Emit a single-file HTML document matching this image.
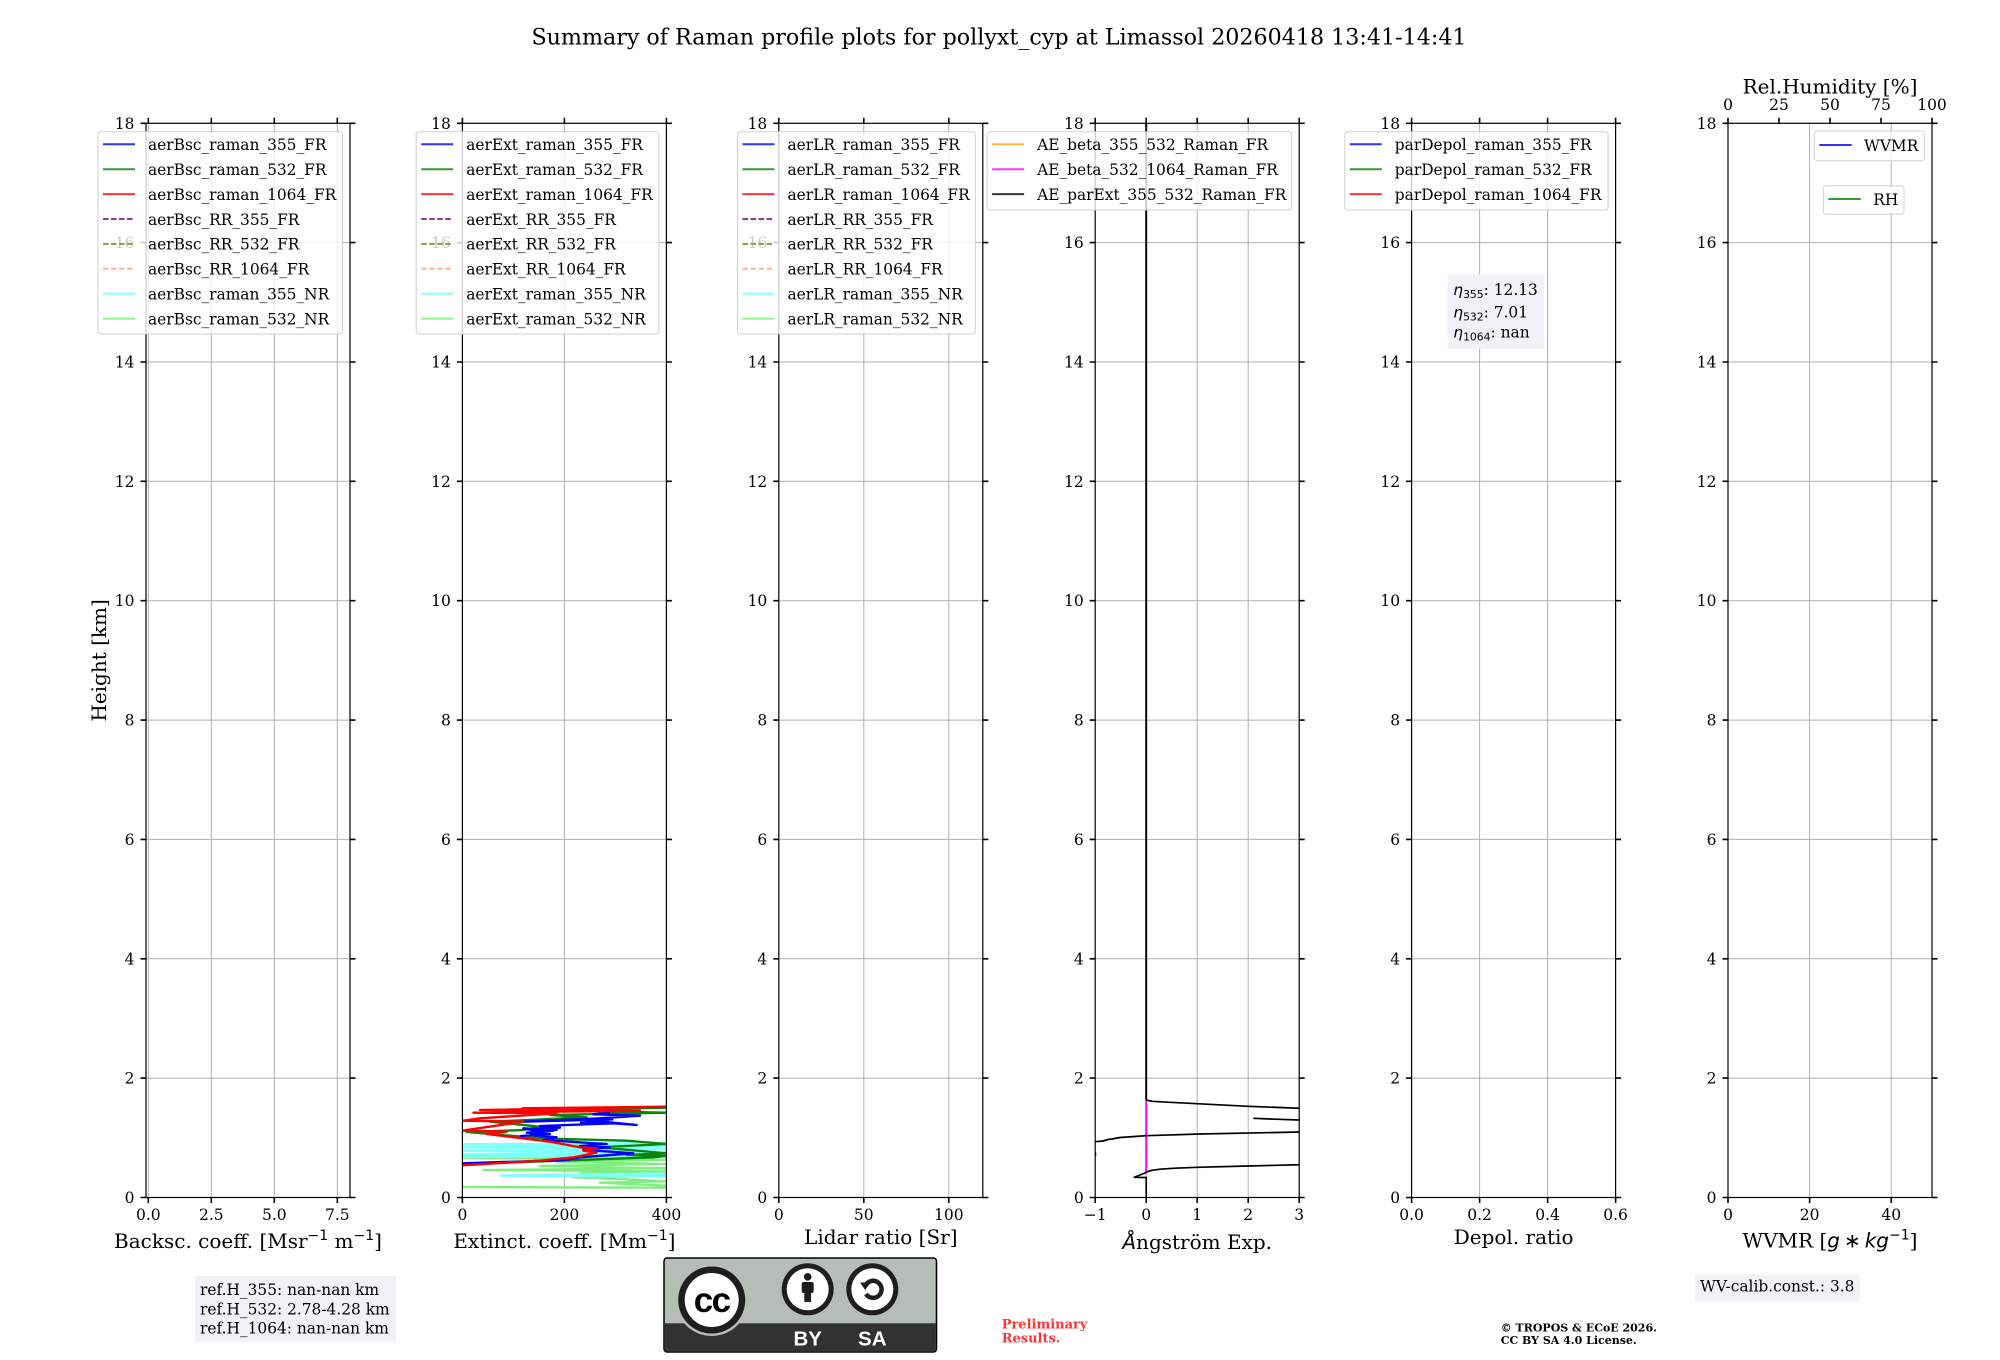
<!DOCTYPE html>
<html>
<head>
<meta charset="utf-8">
<style>
html,body{margin:0;padding:0;background:#fff;}
body{width:2000px;height:1360px;overflow:hidden;}
svg{display:block;}
text{font-family:"DejaVu Serif","Liberation Serif",serif;fill:#000;}
.sans{font-family:"DejaVu Sans","Liberation Sans",sans-serif;}
</style>
</head>
<body>
<svg width="2000" height="1360" viewBox="0 0 2000 1360" xmlns="http://www.w3.org/2000/svg">
<defs>
<clipPath id="c2"><rect x="462.4" y="123.3" width="204" height="1074.2"/></clipPath>
<clipPath id="c4"><rect x="1095.2" y="123.3" width="204" height="1074.2"/></clipPath>
</defs>
<rect width="2000" height="1360" fill="#fff"/>

<text x="999" y="44.3" font-size="22.2" text-anchor="middle">Summary of Raman profile plots for pollyxt_cyp at Limassol 20260418 13:41-14:41</text>

<text transform="translate(99,660.4) rotate(-90)" text-anchor="middle" dominant-baseline="central" font-size="20">Height [km]</text>

<!-- ================= PANEL 1 ================= -->
<g transform="translate(146,0)">
<path d="M0 1078.1H204M0 958.8H204M0 839.4H204M0 720.1H204M0 600.7H204M0 481.3H204M0 362H204M0 242.6H204M2.3 123.3V1197.5M65.3 123.3V1197.5M128.3 123.3V1197.5M191.3 123.3V1197.5" stroke="#b0b0b0" stroke-width="1" fill="none"/>
<rect x="0" y="123.3" width="204" height="1074.2" fill="none" stroke="#000" stroke-width="1.2"/>
<path d="M-5.5 1197.5H0M-5.5 1078.1H0M-5.5 958.8H0M-5.5 839.4H0M-5.5 720.1H0M-5.5 600.7H0M-5.5 481.3H0M-5.5 362H0M-5.5 242.6H0M-5.5 123.3H0M204 1197.5H209.5M204 1078.1H209.5M204 958.8H209.5M204 839.4H209.5M204 720.1H209.5M204 600.7H209.5M204 481.3H209.5M204 362H209.5M204 242.6H209.5M204 123.3H209.5M2.3 1197.5V1203M65.3 1197.5V1203M128.3 1197.5V1203M191.3 1197.5V1203M2.3 123.3V117.8M65.3 123.3V117.8M128.3 123.3V117.8M191.3 123.3V117.8" stroke="#000" stroke-width="1.6" fill="none"/>
<g font-size="15.5" text-anchor="end">
<text x="-11.5" y="1203">0</text><text x="-11.5" y="1083.6">2</text><text x="-11.5" y="964.3">4</text><text x="-11.5" y="844.9">6</text><text x="-11.5" y="725.6">8</text><text x="-11.5" y="606.2">10</text><text x="-11.5" y="486.8">12</text><text x="-11.5" y="367.5">14</text><text x="-11.5" y="248.1">16</text><text x="-11.5" y="128.8">18</text>
</g>
<g font-size="15.5" text-anchor="middle">
<text x="2.3" y="1220">0.0</text><text x="65.3" y="1220">2.5</text><text x="128.3" y="1220">5.0</text><text x="191.3" y="1220">7.5</text>
</g>
<text x="102" y="1247.8" font-size="20" text-anchor="middle">Backsc. coeff. [Msr<tspan class="sans" font-size="14" dy="-8">−1</tspan><tspan dy="8"> m</tspan><tspan class="sans" font-size="14" dy="-8">−1</tspan><tspan dy="8">]</tspan></text>
<rect x="-48" y="131.7" width="244.5" height="202.3" rx="3" fill="#fff" fill-opacity="0.8" stroke="#d0d0d0" stroke-width="1"/>
<g stroke-width="2" fill="none">
<path d="M-43 144.3H-11" stroke="#3333ff"/>
<path d="M-43 169.2H-11" stroke="#339933"/>
<path d="M-43 194.1H-11" stroke="#ff3333"/>
<path d="M-43 219H-11" stroke="#993399" stroke-dasharray="5.5,2.5"/>
<path d="M-43 243.9H-11" stroke="#999933" stroke-dasharray="5.5,2.5"/>
<path d="M-43 268.8H-11" stroke="#ffb395" stroke-dasharray="5.5,2.5"/>
<path d="M-43 293.7H-11" stroke="#88ffff"/>
<path d="M-43 318.6H-11" stroke="#8cf58c"/>
</g>
<g font-size="15.4">
<text x="2" y="150.1">aerBsc_raman_355_FR</text>
<text x="2" y="175">aerBsc_raman_532_FR</text>
<text x="2" y="199.9">aerBsc_raman_1064_FR</text>
<text x="2" y="224.8">aerBsc_RR_355_FR</text>
<text x="2" y="249.7">aerBsc_RR_532_FR</text>
<text x="2" y="274.6">aerBsc_RR_1064_FR</text>
<text x="2" y="299.5">aerBsc_raman_355_NR</text>
<text x="2" y="324.4">aerBsc_raman_532_NR</text>
</g>
</g>

<!-- ================= PANEL 2 ================= -->
<g transform="translate(462.4,0)">
<path d="M0 1078.1H204M0 958.8H204M0 839.4H204M0 720.1H204M0 600.7H204M0 481.3H204M0 362H204M0 242.6H204M102 123.3V1197.5" stroke="#b0b0b0" stroke-width="1" fill="none"/>
</g>
<g clip-path="url(#c2)">
<g transform="translate(440,1060) scale(0.33333)" fill="none" stroke-width="7" stroke-linejoin="round">
<path d="M66 381L678 383L678 377L480 368L678 364L560 358L400 352L678 346L420 340L678 334L130 330L678 325L300 318L678 312L350 305L678 299L66 294L678 289L66 284L678 279" stroke="#80ee80"/>
<path d="M678 350L180 347L300 344L678 341M66 291L678 287L66 282L678 277L66 272L678 268L66 262L678 258L66 253L678 249" stroke="#80ffff"/>
<path d="M66 313L420 300L640 292L678 288L560 285L678 280L480 262L678 252L560 242L330 236L250 230L80 216L250 210L300 200L150 185L440 172L330 165L678 158L300 150L678 143" stroke="#0a850a"/>
<path d="M66 310L380 300L420 292L580 280L470 272L430 268L510 262L420 258L500 252L310 240L350 232L270 225L300 215L250 205L350 210L300 198L520 190L590 195L440 180L250 185L480 175L600 167L460 163L510 158M240 228L330 222L260 218L340 212L280 207L360 203L300 200M420 188L500 185L440 183L520 178" stroke="#0000ff"/>
<path d="M66 316L300 302L400 292L470 278L430 272L470 265L420 262L330 245L140 222L200 215L66 212L250 185L70 182L120 175L350 160L100 158L600 152L120 150L678 140L245 145" stroke="#ff0000"/>
</g>
</g>
<g transform="translate(462.4,0)">
<rect x="0" y="123.3" width="204" height="1074.2" fill="none" stroke="#000" stroke-width="1.2"/>
<path d="M-5.5 1197.5H0M-5.5 1078.1H0M-5.5 958.8H0M-5.5 839.4H0M-5.5 720.1H0M-5.5 600.7H0M-5.5 481.3H0M-5.5 362H0M-5.5 242.6H0M-5.5 123.3H0M204 1197.5H209.5M204 1078.1H209.5M204 958.8H209.5M204 839.4H209.5M204 720.1H209.5M204 600.7H209.5M204 481.3H209.5M204 362H209.5M204 242.6H209.5M204 123.3H209.5M0 1197.5V1203M102 1197.5V1203M204 1197.5V1203M0 123.3V117.8M102 123.3V117.8M204 123.3V117.8" stroke="#000" stroke-width="1.6" fill="none"/>
<g font-size="15.5" text-anchor="end">
<text x="-11.5" y="1203">0</text><text x="-11.5" y="1083.6">2</text><text x="-11.5" y="964.3">4</text><text x="-11.5" y="844.9">6</text><text x="-11.5" y="725.6">8</text><text x="-11.5" y="606.2">10</text><text x="-11.5" y="486.8">12</text><text x="-11.5" y="367.5">14</text><text x="-11.5" y="248.1">16</text><text x="-11.5" y="128.8">18</text>
</g>
<g font-size="15.5" text-anchor="middle">
<text x="0" y="1220">0</text><text x="102" y="1220">200</text><text x="204" y="1220">400</text>
</g>
<text x="102" y="1247.8" font-size="20" text-anchor="middle">Extinct. coeff. [Mm<tspan class="sans" font-size="14" dy="-8">−1</tspan><tspan dy="8">]</tspan></text>
<rect x="-46.2" y="131.7" width="242.7" height="202.3" rx="3" fill="#fff" fill-opacity="0.8" stroke="#d0d0d0" stroke-width="1"/>
<g stroke-width="2" fill="none">
<path d="M-41.2 144.3H-9.2" stroke="#3333ff"/>
<path d="M-41.2 169.2H-9.2" stroke="#339933"/>
<path d="M-41.2 194.1H-9.2" stroke="#ff3333"/>
<path d="M-41.2 219H-9.2" stroke="#993399" stroke-dasharray="5.5,2.5"/>
<path d="M-41.2 243.9H-9.2" stroke="#999933" stroke-dasharray="5.5,2.5"/>
<path d="M-41.2 268.8H-9.2" stroke="#ffb395" stroke-dasharray="5.5,2.5"/>
<path d="M-41.2 293.7H-9.2" stroke="#88ffff"/>
<path d="M-41.2 318.6H-9.2" stroke="#8cf58c"/>
</g>
<g font-size="15.4">
<text x="3.8" y="150.1">aerExt_raman_355_FR</text>
<text x="3.8" y="175">aerExt_raman_532_FR</text>
<text x="3.8" y="199.9">aerExt_raman_1064_FR</text>
<text x="3.8" y="224.8">aerExt_RR_355_FR</text>
<text x="3.8" y="249.7">aerExt_RR_532_FR</text>
<text x="3.8" y="274.6">aerExt_RR_1064_FR</text>
<text x="3.8" y="299.5">aerExt_raman_355_NR</text>
<text x="3.8" y="324.4">aerExt_raman_532_NR</text>
</g>
</g>

<!-- ================= PANEL 3 ================= -->
<g transform="translate(778.8,0)">
<path d="M0 1078.1H204M0 958.8H204M0 839.4H204M0 720.1H204M0 600.7H204M0 481.3H204M0 362H204M0 242.6H204M85 123.3V1197.5M170 123.3V1197.5" stroke="#b0b0b0" stroke-width="1" fill="none"/>
<rect x="0" y="123.3" width="204" height="1074.2" fill="none" stroke="#000" stroke-width="1.2"/>
<path d="M-5.5 1197.5H0M-5.5 1078.1H0M-5.5 958.8H0M-5.5 839.4H0M-5.5 720.1H0M-5.5 600.7H0M-5.5 481.3H0M-5.5 362H0M-5.5 242.6H0M-5.5 123.3H0M204 1197.5H209.5M204 1078.1H209.5M204 958.8H209.5M204 839.4H209.5M204 720.1H209.5M204 600.7H209.5M204 481.3H209.5M204 362H209.5M204 242.6H209.5M204 123.3H209.5M0 1197.5V1203M85 1197.5V1203M170 1197.5V1203M0 123.3V117.8M85 123.3V117.8M170 123.3V117.8" stroke="#000" stroke-width="1.6" fill="none"/>
<g font-size="15.5" text-anchor="end">
<text x="-11.5" y="1203">0</text><text x="-11.5" y="1083.6">2</text><text x="-11.5" y="964.3">4</text><text x="-11.5" y="844.9">6</text><text x="-11.5" y="725.6">8</text><text x="-11.5" y="606.2">10</text><text x="-11.5" y="486.8">12</text><text x="-11.5" y="367.5">14</text><text x="-11.5" y="248.1">16</text><text x="-11.5" y="128.8">18</text>
</g>
<g font-size="15.5" text-anchor="middle">
<text x="0" y="1220">0</text><text x="85" y="1220">50</text><text x="170" y="1220">100</text>
</g>
<text x="102" y="1244" font-size="20" text-anchor="middle">Lidar ratio [Sr]</text>
<rect x="-41.3" y="131.7" width="237.8" height="202.3" rx="3" fill="#fff" fill-opacity="0.8" stroke="#d0d0d0" stroke-width="1"/>
<g stroke-width="2" fill="none">
<path d="M-36.3 144.3H-4.3" stroke="#3333ff"/>
<path d="M-36.3 169.2H-4.3" stroke="#339933"/>
<path d="M-36.3 194.1H-4.3" stroke="#ff3333"/>
<path d="M-36.3 219H-4.3" stroke="#993399" stroke-dasharray="5.5,2.5"/>
<path d="M-36.3 243.9H-4.3" stroke="#999933" stroke-dasharray="5.5,2.5"/>
<path d="M-36.3 268.8H-4.3" stroke="#ffb395" stroke-dasharray="5.5,2.5"/>
<path d="M-36.3 293.7H-4.3" stroke="#88ffff"/>
<path d="M-36.3 318.6H-4.3" stroke="#8cf58c"/>
</g>
<g font-size="15.4">
<text x="8.7" y="150.1">aerLR_raman_355_FR</text>
<text x="8.7" y="175">aerLR_raman_532_FR</text>
<text x="8.7" y="199.9">aerLR_raman_1064_FR</text>
<text x="8.7" y="224.8">aerLR_RR_355_FR</text>
<text x="8.7" y="249.7">aerLR_RR_532_FR</text>
<text x="8.7" y="274.6">aerLR_RR_1064_FR</text>
<text x="8.7" y="299.5">aerLR_raman_355_NR</text>
<text x="8.7" y="324.4">aerLR_raman_532_NR</text>
</g>
</g>

<!-- ================= PANEL 4 ================= -->
<g transform="translate(1095.2,0)">
<path d="M0 1078.1H204M0 958.8H204M0 839.4H204M0 720.1H204M0 600.7H204M0 481.3H204M0 362H204M0 242.6H204M51 123.3V1197.5M102 123.3V1197.5M153 123.3V1197.5" stroke="#b0b0b0" stroke-width="1" fill="none"/>
</g>
<g clip-path="url(#c4)" fill="none" stroke-linejoin="round">
<path d="M1146.2 123.3V1173" stroke="#ff00ff" stroke-width="2"/>
<path d="M1146.2 123.3V1100" stroke="#000" stroke-width="1.7"/>
<path d="M1146.2 1100L1152 1101.3L1170 1102.3L1197 1103.7L1248 1106.3L1300 1108.3" stroke="#000" stroke-width="1.7"/>
<path d="M1253.3 1118.3L1275 1119.2L1300 1120" stroke="#000" stroke-width="1.7"/>
<path d="M1095 1141.7L1103 1141L1108 1139.5L1112 1139L1120 1137.5L1146 1135.7L1200 1134L1300 1132" stroke="#000" stroke-width="1.7"/>
<path d="M1095.5 1152.5V1156" stroke="#000" stroke-width="1.5"/>
<path d="M1146.2 1172.5L1134.3 1177.3L1146.2 1177.5V1197.5M1146.2 1172L1152 1170.3L1160 1169.2L1175 1168.2L1197 1167.3L1248 1166L1300 1164.7" stroke="#000" stroke-width="1.7"/>
</g>
<g transform="translate(1095.2,0)">
<rect x="0" y="123.3" width="204" height="1074.2" fill="none" stroke="#000" stroke-width="1.2"/>
<path d="M-5.5 1197.5H0M-5.5 1078.1H0M-5.5 958.8H0M-5.5 839.4H0M-5.5 720.1H0M-5.5 600.7H0M-5.5 481.3H0M-5.5 362H0M-5.5 242.6H0M-5.5 123.3H0M204 1197.5H209.5M204 1078.1H209.5M204 958.8H209.5M204 839.4H209.5M204 720.1H209.5M204 600.7H209.5M204 481.3H209.5M204 362H209.5M204 242.6H209.5M204 123.3H209.5M0 1197.5V1203M51 1197.5V1203M102 1197.5V1203M153 1197.5V1203M204 1197.5V1203M0 123.3V117.8M51 123.3V117.8M102 123.3V117.8M153 123.3V117.8M204 123.3V117.8" stroke="#000" stroke-width="1.6" fill="none"/>
<g font-size="15.5" text-anchor="end">
<text x="-11.5" y="1203">0</text><text x="-11.5" y="1083.6">2</text><text x="-11.5" y="964.3">4</text><text x="-11.5" y="844.9">6</text><text x="-11.5" y="725.6">8</text><text x="-11.5" y="606.2">10</text><text x="-11.5" y="486.8">12</text><text x="-11.5" y="367.5">14</text><text x="-11.5" y="248.1">16</text><text x="-11.5" y="128.8">18</text>
</g>
<g font-size="15.5" text-anchor="middle">
<text x="0" y="1220">−1</text><text x="51" y="1220">0</text><text x="102" y="1220">1</text><text x="153" y="1220">2</text><text x="204" y="1220">3</text>
</g>
<text x="102" y="1249" font-size="20" text-anchor="middle"><tspan class="sans" font-style="italic">Å</tspan>ngström Exp.</text>
<rect x="-108.1" y="131.7" width="304.6" height="78.3" rx="3" fill="#fff" fill-opacity="0.8" stroke="#d0d0d0" stroke-width="1"/>
<g stroke-width="2" fill="none">
<path d="M-103.1 144.3H-71.1" stroke="#ffb733"/>
<path d="M-103.1 169.2H-71.1" stroke="#ff33ff"/>
<path d="M-103.1 194.1H-71.1" stroke="#333333"/>
</g>
<g font-size="15.4">
<text x="-58.1" y="150.1">AE_beta_355_532_Raman_FR</text>
<text x="-58.1" y="175">AE_beta_532_1064_Raman_FR</text>
<text x="-58.1" y="199.9">AE_parExt_355_532_Raman_FR</text>
</g>
</g>

<!-- ================= PANEL 5 ================= -->
<g transform="translate(1411.6,0)">
<path d="M0 1078.1H204M0 958.8H204M0 839.4H204M0 720.1H204M0 600.7H204M0 481.3H204M0 362H204M0 242.6H204M68 123.3V1197.5M136 123.3V1197.5" stroke="#b0b0b0" stroke-width="1" fill="none"/>
<rect x="0" y="123.3" width="204" height="1074.2" fill="none" stroke="#000" stroke-width="1.2"/>
<path d="M-5.5 1197.5H0M-5.5 1078.1H0M-5.5 958.8H0M-5.5 839.4H0M-5.5 720.1H0M-5.5 600.7H0M-5.5 481.3H0M-5.5 362H0M-5.5 242.6H0M-5.5 123.3H0M204 1197.5H209.5M204 1078.1H209.5M204 958.8H209.5M204 839.4H209.5M204 720.1H209.5M204 600.7H209.5M204 481.3H209.5M204 362H209.5M204 242.6H209.5M204 123.3H209.5M0 1197.5V1203M68 1197.5V1203M136 1197.5V1203M204 1197.5V1203M0 123.3V117.8M68 123.3V117.8M136 123.3V117.8M204 123.3V117.8" stroke="#000" stroke-width="1.6" fill="none"/>
<g font-size="15.5" text-anchor="end">
<text x="-11.5" y="1203">0</text><text x="-11.5" y="1083.6">2</text><text x="-11.5" y="964.3">4</text><text x="-11.5" y="844.9">6</text><text x="-11.5" y="725.6">8</text><text x="-11.5" y="606.2">10</text><text x="-11.5" y="486.8">12</text><text x="-11.5" y="367.5">14</text><text x="-11.5" y="248.1">16</text><text x="-11.5" y="128.8">18</text>
</g>
<g font-size="15.5" text-anchor="middle">
<text x="0" y="1220">0.0</text><text x="68" y="1220">0.2</text><text x="136" y="1220">0.4</text><text x="204" y="1220">0.6</text>
</g>
<text x="102" y="1244" font-size="20" text-anchor="middle">Depol. ratio</text>
<rect x="-66.8" y="131.7" width="263.3" height="78.3" rx="3" fill="#fff" fill-opacity="0.8" stroke="#d0d0d0" stroke-width="1"/>
<g stroke-width="2" fill="none">
<path d="M-61.8 144.3H-29.8" stroke="#3333ff"/>
<path d="M-61.8 169.2H-29.8" stroke="#339933"/>
<path d="M-61.8 194.1H-29.8" stroke="#ff3333"/>
</g>
<g font-size="15.4">
<text x="-16.8" y="150.1">parDepol_raman_355_FR</text>
<text x="-16.8" y="175">parDepol_raman_532_FR</text>
<text x="-16.8" y="199.9">parDepol_raman_1064_FR</text>
</g>
</g>
<rect x="1447.7" y="274.3" width="96.3" height="74.7" fill="#f1f2f6"/>
<g font-size="15.4">
<text x="1453.3" y="295"><tspan class="sans" font-style="italic">η</tspan><tspan class="sans" font-size="10.8" dy="3">355</tspan><tspan dy="-3">: 12.13</tspan></text>
<text x="1453.3" y="317.3"><tspan class="sans" font-style="italic">η</tspan><tspan class="sans" font-size="10.8" dy="3">532</tspan><tspan dy="-3">: 7.01</tspan></text>
<text x="1453.3" y="337.7"><tspan class="sans" font-style="italic">η</tspan><tspan class="sans" font-size="10.8" dy="3">1064</tspan><tspan dy="-3">: nan</tspan></text>
</g>

<!-- ================= PANEL 6 ================= -->
<g transform="translate(1728,0)">
<path d="M0 1078.1H204M0 958.8H204M0 839.4H204M0 720.1H204M0 600.7H204M0 481.3H204M0 362H204M0 242.6H204M81.6 123.3V1197.5M163.2 123.3V1197.5" stroke="#b0b0b0" stroke-width="1" fill="none"/>
<rect x="0" y="123.3" width="204" height="1074.2" fill="none" stroke="#000" stroke-width="1.2"/>
<path d="M-5.5 1197.5H0M-5.5 1078.1H0M-5.5 958.8H0M-5.5 839.4H0M-5.5 720.1H0M-5.5 600.7H0M-5.5 481.3H0M-5.5 362H0M-5.5 242.6H0M-5.5 123.3H0M204 1197.5H209.5M204 1078.1H209.5M204 958.8H209.5M204 839.4H209.5M204 720.1H209.5M204 600.7H209.5M204 481.3H209.5M204 362H209.5M204 242.6H209.5M204 123.3H209.5M0 1197.5V1203M81.6 1197.5V1203M163.2 1197.5V1203M0 123.3V117.8M51 123.3V117.8M102 123.3V117.8M153 123.3V117.8M204 123.3V117.8" stroke="#000" stroke-width="1.6" fill="none"/>
<g font-size="15.5" text-anchor="end">
<text x="-11.5" y="1203">0</text><text x="-11.5" y="1083.6">2</text><text x="-11.5" y="964.3">4</text><text x="-11.5" y="844.9">6</text><text x="-11.5" y="725.6">8</text><text x="-11.5" y="606.2">10</text><text x="-11.5" y="486.8">12</text><text x="-11.5" y="367.5">14</text><text x="-11.5" y="248.1">16</text><text x="-11.5" y="128.8">18</text>
</g>
<g font-size="15.5" text-anchor="middle">
<text x="0" y="1220">0</text><text x="81.6" y="1220">20</text><text x="163.2" y="1220">40</text>
<text x="0" y="110">0</text><text x="51" y="110">25</text><text x="102" y="110">50</text><text x="153" y="110">75</text><text x="204" y="110">100</text>
</g>
<text x="102" y="93.3" font-size="20" text-anchor="middle">Rel.Humidity [%]</text>
<text x="102" y="1247.7" font-size="20" text-anchor="middle">WVMR [<tspan class="sans" font-style="italic">g</tspan><tspan class="sans">&#8201;∗&#8201;</tspan><tspan class="sans" font-style="italic">kg</tspan><tspan class="sans" font-size="14" dy="-8">−1</tspan><tspan dy="8">]</tspan></text>
</g>
<rect x="1814.3" y="131" width="110" height="29.7" rx="3" fill="#fff" fill-opacity="0.8" stroke="#d0d0d0" stroke-width="1"/>
<path d="M1819.3 145H1851.7" stroke="#3333ff" stroke-width="2"/>
<text x="1864" y="150.8" font-size="15.4">WVMR</text>
<rect x="1823.3" y="185.7" width="80.7" height="28.6" rx="3" fill="#fff" fill-opacity="0.8" stroke="#d0d0d0" stroke-width="1"/>
<path d="M1828.3 199H1860.7" stroke="#339933" stroke-width="2"/>
<text x="1873.3" y="204.8" font-size="15.4">RH</text>

<!-- ref box -->
<rect x="195" y="1276" width="201" height="66" fill="#f1f2f6"/>
<g font-size="15.4">
<text x="200" y="1295">ref.H_355: nan-nan km</text>
<text x="200" y="1314.3">ref.H_532: 2.78-4.28 km</text>
<text x="200" y="1333.5">ref.H_1064: nan-nan km</text>
</g>

<!-- WV calib -->
<rect x="1695" y="1274.3" width="165" height="27.4" fill="#f1f2f6"/>
<text x="1700" y="1291.7" font-size="15.4">WV-calib.const.: 3.8</text>

<!-- CC logo -->
<g>
<rect x="664" y="1258" width="272.5" height="94" rx="3" fill="#b6bcb6" stroke="#000" stroke-width="1.5"/>
<rect x="664.8" y="1323.3" width="271" height="27.9" fill="#323232"/>
<circle cx="711.7" cy="1300" r="36" fill="#b6bcb6"/>
<circle cx="711.7" cy="1300" r="33.5" fill="#1e1e1e"/>
<circle cx="711.7" cy="1300" r="27" fill="#fff"/>
<text x="711.7" y="1312" font-weight="bold" font-size="35" text-anchor="middle" letter-spacing="-1.5" style="font-family:'Liberation Sans',sans-serif">cc</text>
<circle cx="807.7" cy="1289.3" r="26" fill="#1e1e1e"/>
<circle cx="807.7" cy="1289.3" r="21" fill="#fff"/>
<circle cx="807.7" cy="1276.8" r="3.8" fill="#1e1e1e"/>
<rect x="801.7" y="1282" width="12" height="11" rx="2" fill="#1e1e1e"/>
<rect x="804.3" y="1290" width="6.8" height="12" fill="#1e1e1e"/>
<circle cx="872.3" cy="1289.3" r="26" fill="#1e1e1e"/>
<circle cx="872.3" cy="1289.3" r="21" fill="#fff"/>
<path d="M865.5 1285.5A8.5 8.5 0 1 1 866 1294" fill="none" stroke="#1e1e1e" stroke-width="4.5"/>
<path d="M860 1282.5L870.5 1282.5L865.2 1290Z" fill="#1e1e1e"/>
<text x="807.7" y="1345.7" font-weight="bold" font-size="20.5" text-anchor="middle" style="font-family:'Liberation Sans',sans-serif;fill:#fff">BY</text>
<text x="872.3" y="1345.7" font-weight="bold" font-size="20.5" text-anchor="middle" style="font-family:'Liberation Sans',sans-serif;fill:#fff">SA</text>
</g>

<!-- Preliminary -->
<g font-size="13" font-weight="bold">
<text x="1001.7" y="1328.3" style="fill:#ff3333">Preliminary</text>
<text x="1001.7" y="1342.7" style="fill:#ff3333">Results.</text>
</g>

<!-- copyright -->
<g font-size="11" font-weight="bold">
<text x="1500.7" y="1331.7">© TROPOS &amp; ECoE 2026.</text>
<text x="1500.7" y="1344">CC BY SA 4.0 License.</text>
</g>
</svg>
</body>
</html>
